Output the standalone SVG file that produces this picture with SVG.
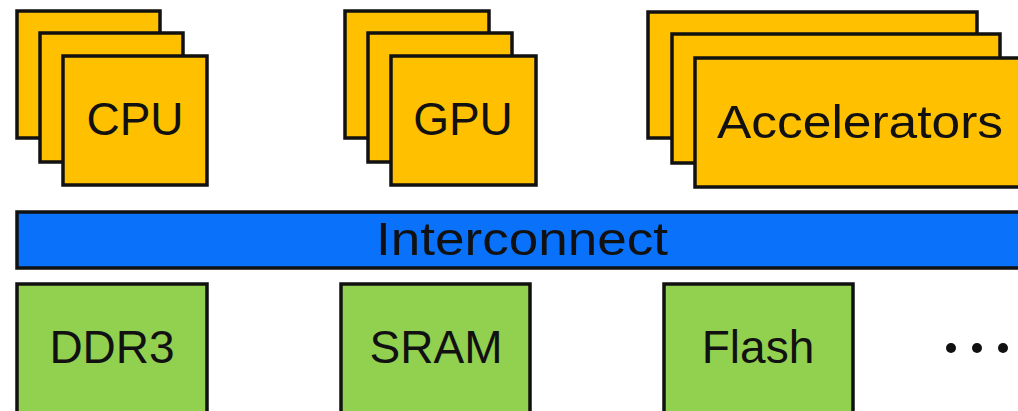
<svg xmlns="http://www.w3.org/2000/svg" width="1018" height="411" viewBox="0 0 1018 411">
<style>
.proc{fill:#FFC000;stroke:#111;stroke-width:3.5}
.mem{fill:#92D050;stroke:#111;stroke-width:3.5}
.bus{fill:#0A72FA;stroke:#111;stroke-width:3.5}
.lbl{font-family:"Liberation Sans",Arial,sans-serif;font-size:46px;fill:#111;text-anchor:middle}
</style>
<rect width="1018" height="411" fill="#fff"/>
<g id="cpu">
<rect class="proc" x="17" y="11" width="143" height="127"/>
<rect class="proc" x="40" y="33" width="143" height="129"/>
<rect class="proc" x="63" y="56" width="144" height="129"/>
<text class="lbl" x="135" y="135">CPU</text>
</g>
<g id="gpu">
<rect class="proc" x="345" y="11" width="144" height="127"/>
<rect class="proc" x="368" y="33" width="144" height="129"/>
<rect class="proc" x="391" y="56" width="145" height="129"/>
<text class="lbl" x="463" y="135">GPU</text>
</g>
<g id="accelerators">
<rect class="proc" x="648" y="12" width="329" height="126"/>
<rect class="proc" x="672" y="34" width="328" height="129"/>
<rect class="proc" x="695" y="58" width="340" height="129"/>
<text class="lbl" x="860" y="138" textLength="286" lengthAdjust="spacingAndGlyphs">Accelerators</text>
</g>
<g id="interconnect">
<rect class="bus" x="17" y="212" width="1020" height="56"/>
<text class="lbl" x="522" y="255" textLength="292" lengthAdjust="spacingAndGlyphs">Interconnect</text>
</g>
<g id="ddr3">
<rect class="mem" x="17" y="284" width="190" height="140"/>
<text class="lbl" x="112" y="363">DDR3</text>
</g>
<g id="sram">
<rect class="mem" x="341" y="284" width="189" height="140"/>
<text class="lbl" x="436" y="363">SRAM</text>
</g>
<g id="flash">
<rect class="mem" x="664" y="284" width="189" height="140"/>
<text class="lbl" x="758" y="363">Flash</text>
</g>
<g id="more" fill="#111">
<circle cx="951" cy="348" r="5"/>
<circle cx="977" cy="348" r="5"/>
<circle cx="1003" cy="348" r="5"/>
</g>
<g id="connectors"></g>
</svg>
